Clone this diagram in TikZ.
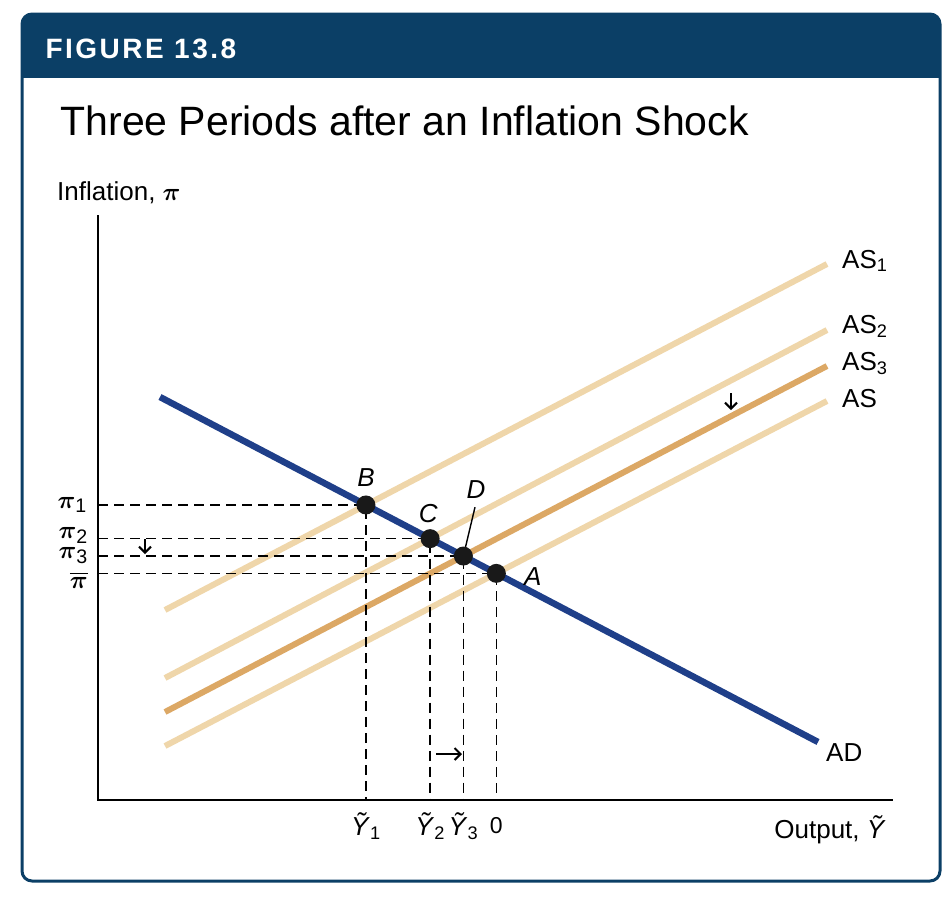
\documentclass[tikz,border=0pt]{standalone}
\usepackage{amsmath}
\usepackage{fontspec}
\setmainfont{Liberation Sans}
\newfontfamily\figfont[LetterSpace=9]{Liberation Sans}
\usepackage{tikz}
\usetikzlibrary{arrows.meta,positioning}
\definecolor{hdblue}{HTML}{0B3F66}
\definecolor{adblue}{HTML}{1F3F89}
\definecolor{aslight}{HTML}{EFD6AA}
\definecolor{asdark}{HTML}{DCA865}

\begin{document}
\begin{tikzpicture}[x=1pt,y=-1pt,>=Stealth,
lbl/.style={inner sep=0pt,font=\fontsize{26}{30}\selectfont},
pilbl/.style={inner sep=0pt,font=\fontsize{28}{32}\selectfont},
ptlbl/.style={inner sep=0pt,font=\fontsize{26}{30}\selectfont\itshape},
guide/.style={line width=1.6pt,dash pattern=on 10pt off 6pt},
dot/.style={circle,fill=black!90,inner sep=0pt,minimum size=19pt},
drift/.style={line width=2pt,-{Straight Barb[length=6pt,width=12pt,line width=2pt]}}]
\useasboundingbox(0,0)rectangle(950,898);
\begin{scope}
\clip[rounded corners=10pt](22,14)rectangle(940,881);
\fill[hdblue](22,14)rectangle(940,78);
\end{scope}
\draw[hdblue,line width=3pt,rounded corners=10pt](22,14)rectangle(940,881);
\node[anchor=base west,text=white,font=\figfont\bfseries\fontsize{28}{32}\selectfont](fig)at(42,58){FIGURE 13.8};
\node[anchor=base west,font=\fontsize{41}{48}\selectfont](title)at(57,135){Three Periods after an Inflation Shock};

\coordinate(O)at(98,800);
\draw[line width=1.8pt](98,215)--(O)--(893,800);
\node[lbl,anchor=base west](ylab)at(57,200){Inflation, $\boldsymbol{\pi}$};
\node[lbl,anchor=base east](xlab)at(886,838){Output, \textit{Ỹ}};

\coordinate(ad1)at(160,397);\coordinate(ad2)at(818,742);
\coordinate(as1a)at(165,610);\coordinate(as1b)at(827,264);
\coordinate(as2a)at(165,678);\coordinate(as2b)at(827,330);
\coordinate(as3a)at(165,712);\coordinate(as3b)at(827,366);
\coordinate(as0a)at(165,746);\coordinate(as0b)at(827,401);
\draw[aslight,line width=6pt](as1a)--(as1b);
\draw[aslight,line width=6pt](as2a)--(as2b);
\draw[aslight,line width=6pt](as0a)--(as0b);
\draw[asdark,line width=6pt](as3a)--(as3b);
\draw[adblue,line width=6.5pt](ad1)--(ad2);

\coordinate(B)at(intersection of ad1--ad2 and as1a--as1b);
\coordinate(C)at(intersection of ad1--ad2 and as2a--as2b);
\coordinate(D)at(intersection of ad1--ad2 and as3a--as3b);
\coordinate(A)at(intersection of ad1--ad2 and as0a--as0b);
\foreach \p in {B,C,D,A}
\draw[guide](O|-\p)--(\p)--(\p|-O);

\node[ptlbl](lD)at(476,490){D};
\draw[line width=1.4pt](D)--([xshift=-1pt,yshift=-8pt]lD.south);
\node[dot](ptB)at(B){};
\node[dot](ptC)at(C){};
\node[dot](ptD)at(D){};
\node[dot](ptA)at(A){};
\node[ptlbl,above=9pt of ptB](lB){B};
\node[ptlbl,above=6pt of ptC,xshift=-2pt](lC){C};
\node[ptlbl,right=18pt of ptA,yshift=-3.5pt](lA){A};

\node[pilbl,anchor=base east](pi1)at(87,508){$\boldsymbol{\pi}_{\text{1}}$};
\node[pilbl,anchor=base east](pi2)at(88,538){$\boldsymbol{\pi}_{\text{2}}$};
\node[pilbl,anchor=base east](pi3)at(88,558){$\boldsymbol{\pi}_{\text{3}}$};
\node[pilbl,anchor=north east](pibar)at(88,572){$\overline{\boldsymbol{\pi}}$};

\node[lbl,anchor=north,yshift=-12pt](y1)at(B|-O){\textit{Ỹ}$_{\text{1}}$};
\node[lbl,anchor=north,yshift=-12pt](y2)at(C|-O){\textit{Ỹ}$_{\text{2}}$};
\node[lbl,anchor=north,yshift=-12pt](y3)at(D|-O){\textit{Ỹ}$_{\text{3}}$};
\node[lbl,anchor=north,yshift=-17pt,font=\fontsize{23}{27}\selectfont](y0)at(A|-O){0};

\draw[drift](145,539)--(145,554);
\draw[drift](436,754)--(462,754);
\draw[drift](731,393)--(731,410);

\node[lbl,anchor=base west](las1)at(842,268){AS$_{\text{1}}$};
\node[lbl,anchor=base west](las2)at(842,333){AS$_{\text{2}}$};
\node[lbl,anchor=base west](las3)at(842,370){AS$_{\text{3}}$};
\node[lbl,anchor=base west](las0)at(842,407){AS};
\node[lbl,anchor=base west](lad)at(826,761){AD};
\end{tikzpicture}
\end{document}
